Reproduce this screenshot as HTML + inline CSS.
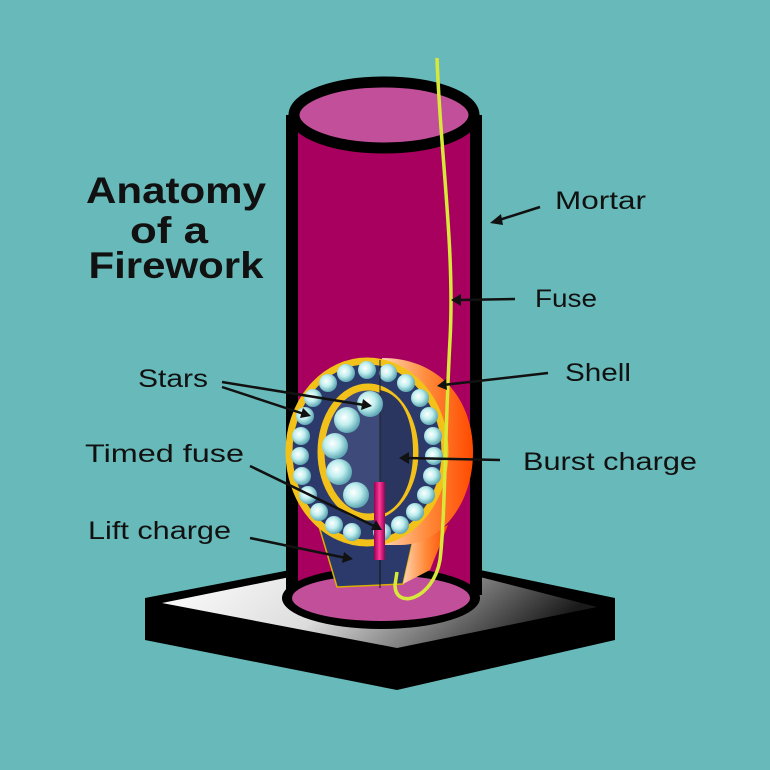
<!DOCTYPE html>
<html><head><meta charset="utf-8"><style>
html,body{margin:0;padding:0;background:#68b9b9;}
svg{display:block}
text{font-family:"Liberation Sans",sans-serif;fill:#111}
</style></head><body>
<svg width="770" height="770" viewBox="0 0 770 770" xmlns="http://www.w3.org/2000/svg">
<defs>
<linearGradient id="base" x1="0" y1="0" x2="1" y2="0.2">
<stop offset="0" stop-color="#ffffff"/><stop offset="0.45" stop-color="#dcdcdc"/><stop offset="1" stop-color="#1a1a1a"/>
</linearGradient>
<radialGradient id="ball" cx="0.4" cy="0.4" r="0.6">
<stop offset="0" stop-color="#ffffff"/><stop offset="0.5" stop-color="#bfeeee"/><stop offset="1" stop-color="#5fa9b5"/>
</radialGradient>
<linearGradient id="orange" x1="0" y1="0" x2="1" y2="0">
<stop offset="0" stop-color="#ffd3b0"/><stop offset="0.5" stop-color="#ff8a3a"/><stop offset="1" stop-color="#ff4a00"/>
</linearGradient>
<linearGradient id="rod" x1="0" y1="0" x2="1" y2="0">
<stop offset="0" stop-color="#9a0050"/><stop offset="0.5" stop-color="#ff3a9a"/><stop offset="1" stop-color="#9a0050"/>
</linearGradient>
</defs>
<!-- base -->
<polygon points="145,598 290,570 480,570 615,598 615,640 397,690 145,640" fill="#000"/>
<polygon points="162,603 290,577 480,577 597,607 397,648" fill="url(#base)"/>
<!-- cylinder -->
<rect x="290" y="115" width="188" height="485" fill="#a8005e"/>
<rect x="286" y="115" width="12" height="480" fill="#000"/>
<rect x="470" y="115" width="12" height="480" fill="#000"/>
<ellipse cx="381" cy="598" rx="99" ry="31" fill="#000"/>
<ellipse cx="381" cy="598" rx="89" ry="23" fill="#c24f9a"/>
<ellipse cx="384" cy="115" rx="90" ry="33" fill="#c24f9a" stroke="#000" stroke-width="11"/>
<!-- lift charge -->
<polygon points="318,523 337,587 403,584 413,540" fill="#2b3a6a" stroke="#d9b000" stroke-width="1.5"/>
<line x1="380" y1="530" x2="380" y2="588" stroke="#111" stroke-width="1"/>
<polygon points="403,584 413,540 448,525 430,570" fill="url(#orange)"/>
<!-- orange shell -->
<path d="M382,358 C440,358 473,400 473,452 C473,505 440,545 400,545 L382,545 Z" fill="url(#orange)"/>
<!-- outer ring -->
<ellipse cx="367" cy="452" rx="78" ry="91" fill="#2b3a6a" stroke="#f2c21a" stroke-width="7"/>
<g fill="url(#ball)">
<circle cx="367" cy="370" r="9"/><circle cx="388" cy="373" r="9"/><circle cx="346" cy="373" r="9"/>
<circle cx="406" cy="383" r="9"/><circle cx="328" cy="383" r="9"/>
<circle cx="420" cy="398" r="9"/><circle cx="313" cy="398" r="9"/>
<circle cx="429" cy="416" r="9"/><circle cx="305" cy="416" r="9"/>
<circle cx="433" cy="436" r="9"/><circle cx="301" cy="436" r="9"/>
<circle cx="434" cy="456" r="9"/><circle cx="300" cy="456" r="9"/>
<circle cx="432" cy="476" r="9"/><circle cx="302" cy="476" r="9"/>
<circle cx="426" cy="495" r="9"/><circle cx="308" cy="495" r="9"/>
<circle cx="415" cy="512" r="9"/><circle cx="319" cy="512" r="9"/>
<circle cx="400" cy="525" r="9"/><circle cx="334" cy="525" r="9"/>
<circle cx="382" cy="532" r="9"/><circle cx="352" cy="532" r="9"/>
</g>
<!-- inner -->
<ellipse cx="368" cy="452" rx="47" ry="65" fill="#3d4a7a" stroke="#f2c21a" stroke-width="7"/>
<path d="M380,390 C405,395 413,425 413,452 C413,485 400,510 380,515 Z" fill="#2a3660"/>
<line x1="380" y1="360" x2="380" y2="545" stroke="#222" stroke-width="1"/>
<g fill="url(#ball)">
<circle cx="370" cy="404" r="13"/><circle cx="347" cy="420" r="13"/>
<circle cx="335" cy="446" r="13"/><circle cx="339" cy="472" r="13"/>
<circle cx="356" cy="495" r="13"/>
</g>
<!-- timed fuse rod -->
<rect x="374" y="482" width="11" height="78" fill="url(#rod)"/>
<!-- fuse -->
<path d="M437,58 C440,150 455,250 450,340 C445,430 445,520 440,560 C433,600 395,610 395,585 L397,572" fill="none" stroke="#d8e83a" stroke-width="3.5"/>
<!-- title -->
<g font-weight="bold" font-size="37" text-anchor="middle">
<text x="176" y="203" textLength="180" lengthAdjust="spacingAndGlyphs">Anatomy</text>
<text x="169" y="243" textLength="78" lengthAdjust="spacingAndGlyphs">of a</text>
<text x="176" y="278" textLength="175" lengthAdjust="spacingAndGlyphs">Firework</text>
</g>
<g font-size="25">
<text x="555" y="209" textLength="91" lengthAdjust="spacingAndGlyphs">Mortar</text>
<text x="535" y="307" textLength="62" lengthAdjust="spacingAndGlyphs">Fuse</text>
<text x="565" y="381" textLength="66" lengthAdjust="spacingAndGlyphs">Shell</text>
<text x="523" y="470" textLength="174" lengthAdjust="spacingAndGlyphs">Burst charge</text>
<text x="138" y="387" textLength="70" lengthAdjust="spacingAndGlyphs">Stars</text>
<text x="85" y="462" textLength="159" lengthAdjust="spacingAndGlyphs">Timed fuse</text>
<text x="88" y="539" textLength="143" lengthAdjust="spacingAndGlyphs">Lift charge</text>
</g>
<g stroke="#111" stroke-width="2.5" fill="none">
<line x1="540" y1="207" x2="496" y2="221"/>
<line x1="515" y1="299" x2="458" y2="300"/>
<line x1="548" y1="373" x2="443" y2="385"/>
<line x1="500" y1="460" x2="406" y2="458"/>
<line x1="222" y1="382" x2="364" y2="405"/>
<line x1="222" y1="387" x2="304" y2="414"/>
<line x1="250" y1="466" x2="376" y2="527"/>
<line x1="250" y1="538" x2="346" y2="558"/>
</g>
<g fill="#111">
<polygon points="490,223 501,214 503,225"/>
<polygon points="451,300 461,294 461,306"/>
<polygon points="437,386 446,379 447,390"/>
<polygon points="399,458 409,452 409,464"/>
<polygon points="372,406 361,410 363,399"/>
<polygon points="311,416 300,418 303,408"/>
<polygon points="382,530 371,530 376,520"/>
<polygon points="353,559 342,563 344,552"/>
</g>
</svg>
</body></html>
